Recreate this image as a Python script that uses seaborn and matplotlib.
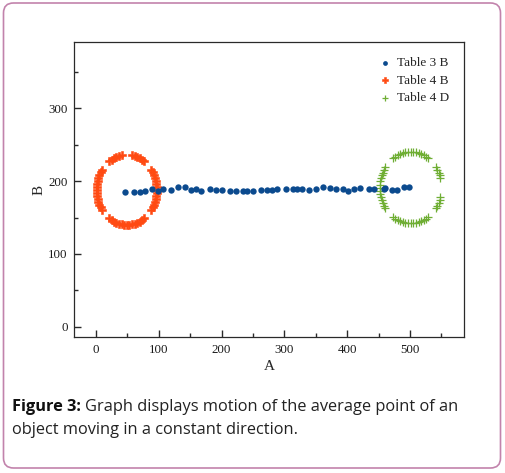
#!/usr/bin/env python3

import matplotlib
matplotlib.use("Agg")
import matplotlib.pyplot as plt
import numpy as np
import pandas as pd
import seaborn as sns
from matplotlib.patches import FancyBboxPatch
from matplotlib.ticker import MultipleLocator
from matplotlib.transforms import IdentityTransform


# Table 3 B: average point moving along A
T3B_A = [47, 60, 70, 78, 89, 98, 107, 119, 130, 142, 151, 160, 168, 181, 191, 201,
         213, 223, 234, 241, 250, 262, 272, 280, 289, 302, 314, 320, 328, 339, 351,
         362, 372, 382, 393, 401, 411, 420, 434, 443, 458, 461, 472, 480, 491, 499]
T3B_B = [184.6, 184.6, 185.5, 186.9, 188.7, 186.9, 188.7, 187.8, 192.4, 191.5, 187.8,
         188.7, 186.4, 188.7, 187.3, 187.8, 186.9, 186.4, 186.9, 186.4, 186.4, 187.8,
         187.8, 187.8, 189.6, 189.6, 189.6, 188.7, 188.7, 187.8, 189.6, 191.9, 191.0,
         188.7, 188.7, 186.9, 189.6, 191.0, 189.6, 189.6, 189.6, 191.0, 187.8, 187.8,
         191.9, 191.9]

# Table 4 B: dashed ring around the start
T4B_A = [76.5, 73.0, 69.3, 65.4, 61.4, 57.3,
         40.7, 36.6, 32.6, 28.7, 25.0, 21.5,
         9.7, 7.4, 5.5, 3.9, 2.6, 1.7, 1.2, 1.0, 1.2, 1.7, 2.6, 3.9, 5.5, 7.4, 9.7,
         21.5, 25.0, 28.7, 32.6, 36.6, 40.7, 44.8, 49.0, 53.2, 57.3, 61.4, 65.4, 69.3,
         73.0, 76.5,
         88.3, 90.6, 92.5, 94.1, 95.4, 96.3, 96.8, 97.0, 96.8, 96.3, 95.4, 94.1, 92.5,
         90.6, 88.3]
T4B_B = [227.3, 229.6, 231.5, 233.1, 234.4, 235.3,
         235.3, 234.4, 233.1, 231.5, 229.6, 227.3,
         215.5, 212.0, 208.3, 204.4, 200.4, 196.3, 192.2, 188.0, 183.8, 179.7, 175.6,
         171.6, 167.7, 164.0, 160.5,
         148.7, 146.4, 144.5, 142.9, 141.6, 140.7, 140.2, 140.0, 140.2, 140.7, 141.6,
         142.9, 144.5, 146.4, 148.7,
         160.5, 164.0, 167.7, 171.6, 175.6, 179.7, 183.8, 188.0, 192.2, 196.3, 200.4,
         204.4, 208.3, 212.0, 215.5]

# Table 4 D: dashed ring around the end
T4D_A = [529.1, 525.5, 521.7, 517.8, 513.7, 509.5, 505.3, 501.0, 496.7, 492.5, 488.3,
         484.2, 480.3, 476.5, 472.9,
         548.3, 547.0, 545.4, 543.4, 541.1,
         548.3, 547.0, 545.4, 543.4, 541.1,
         460.9, 458.6, 456.6, 455.0, 453.7, 452.7, 452.2, 452.0, 452.2, 452.7, 453.7,
         455.0, 456.6, 458.6, 460.9,
         472.9, 476.5, 480.3, 484.2, 488.3, 492.5, 496.7, 501.0, 505.3, 509.5, 513.7,
         517.8, 521.7, 525.5, 529.1]
T4D_B = [231.1, 233.4, 235.4, 237.0, 238.3, 239.3, 239.8, 240.0, 239.8, 239.3, 238.3,
         237.0, 235.4, 233.4, 231.1,
         203.7, 207.8, 211.7, 215.5, 219.1,
         178.3, 174.2, 170.3, 166.5, 162.9,
         219.1, 215.5, 211.7, 207.8, 203.7, 199.5, 195.3, 191.0, 186.7, 182.5, 178.3,
         174.2, 170.3, 166.5, 162.9,
         150.9, 148.6, 146.6, 145.0, 143.7, 142.7, 142.2, 142.0, 142.2, 142.7, 143.7,
         145.0, 146.6, 148.6, 150.9]

BLUE = "#0b4a8e"
RED = "#ff4a12"
GREEN = "#6fae34"
BORDER = "#c283ac"
INK = "#222222"
W, H = 505, 473


def apply_style() -> None:
    sns.set_style("ticks")
    plt.rcParams.update(
        {
            "font.family": ["Liberation Serif", "DejaVu Serif"],
            "font.size": 9,
            "axes.linewidth": 0.9,
            "axes.edgecolor": "#2a2a2a",
            "xtick.direction": "in",
            "ytick.direction": "in",
            "xtick.color": "#2a2a2a",
            "ytick.color": "#2a2a2a",
            "xtick.labelcolor": "#1a1a1a",
            "ytick.labelcolor": "#1a1a1a",
            "figure.facecolor": "white",
            "axes.facecolor": "white",
        }
    )


def main() -> None:
    apply_style()
    fig = plt.figure(figsize=(W / 100, H / 100), dpi=100)
    ax = fig.add_axes([74 / W, 1 - 337 / H, 390 / W, 295 / H])

    t3 = pd.DataFrame({"A": T3B_A, "B": T3B_B})
    t4b = pd.DataFrame({"A": T4B_A, "B": T4B_B})
    t4d = pd.DataFrame({"A": T4D_A, "B": T4D_B})

    sns.scatterplot(data=t4b, x="A", y="B", ax=ax, color=RED, marker="P",
                    s=36, linewidth=0.4, edgecolor=RED, label="Table 4 B", zorder=2)
    sns.scatterplot(data=t4d, x="A", y="B", ax=ax, color=GREEN, marker="+",
                    s=30, linewidth=0.9, label="Table 4 D", zorder=3)
    sns.scatterplot(data=t3, x="A", y="B", ax=ax, color=BLUE, marker="o",
                    s=21, linewidth=0, label="Table 3 B", zorder=4)

    ax.set_xlim(-35, 586)
    ax.set_ylim(-14, 391)
    ax.xaxis.set_major_locator(MultipleLocator(100))
    ax.xaxis.set_minor_locator(MultipleLocator(50))
    ax.yaxis.set_major_locator(MultipleLocator(100))
    ax.yaxis.set_minor_locator(MultipleLocator(50))
    ax.set_yticks([0, 100, 200, 300])
    ax.tick_params(which="major", length=4.8, width=1.0, pad=4.5, labelsize=9.3)
    ax.tick_params(which="minor", length=2.9, width=1.0)
    ax.tick_params(axis="x", pad=5)
    ax.set_xlabel("A", fontsize=11, labelpad=3)
    ax.set_ylabel("B", fontsize=11, labelpad=2)
    for side in ["top", "right", "left", "bottom"]:
        ax.spines[side].set_visible(True)

    handles, labels = ax.get_legend_handles_labels()
    order = [labels.index(name) for name in ["Table 3 B", "Table 4 B", "Table 4 D"]]
    ax.legend([handles[i] for i in order], [labels[i] for i in order],
              loc="upper right", frameon=False, fontsize=9.5, handletextpad=0.25,
              labelspacing=0.4, borderaxespad=0.75, handlelength=1.2,
              markerscale=0.75)

    # rounded frame around the whole figure panel
    fig.patches.append(
        FancyBboxPatch((3.5, 5.0), 497.0, 465.0,
                       boxstyle="round,pad=0,rounding_size=10",
                       transform=IdentityTransform(), facecolor="none",
                       edgecolor=BORDER, linewidth=1.2)
    )

    cap_font = ["Open Sans", "DejaVu Sans"]
    head = fig.text(12 / W, 1 - 410.7 / H, "Figure 3:", fontsize=11.8,
                    fontweight="bold", family=cap_font, color="#111111",
                    va="baseline", ha="left")
    fig.canvas.draw()
    bb = head.get_window_extent(fig.canvas.get_renderer())
    fig.text((bb.x1 + 4) / W, 1 - 410.7 / H,
             "Graph displays motion of the average point of an", fontsize=11.8,
             family=cap_font, color=INK, va="baseline", ha="left")
    fig.text(12 / W, 1 - 433.7 / H, "object moving in a constant direction.",
             fontsize=11.8, family=cap_font, color=INK, va="baseline", ha="left")

    fig.savefig("out.png", dpi=100)
    plt.close(fig)


if __name__ == "__main__":
    main()
